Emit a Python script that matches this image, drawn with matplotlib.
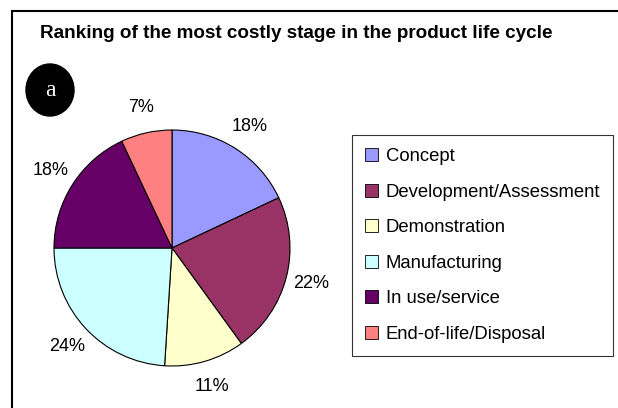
"""
Pie chart: ranking of the most costly stage in the product life cycle.
"""

import matplotlib
matplotlib.use("Agg")
import matplotlib.pyplot as plt
from matplotlib.patches import Rectangle, Ellipse

plt.rcParams["font.family"] = ["Liberation Sans", "DejaVu Sans"]

# data
STAGES = [
    "Concept",
    "Development/Assessment",
    "Demonstration",
    "Manufacturing",
    "In use/service",
    "End-of-life/Disposal",
]
SHARES = [18, 22, 11, 24, 18, 7]

# old-school spreadsheet palette
COLORS = ["#9999FF", "#993366", "#FFFFCC", "#CCFFFF", "#660066", "#FF8080"]

W, H = 618, 408
fig = plt.figure(figsize=(W / 100, H / 100), dpi=100)
fig.patch.set_facecolor("white")

# pie axes: centre (172, 248) px, radius ~118 px
r_px = 118
lim = 1.3
cx, cy = 172, 248
half = lim * r_px
ax = fig.add_axes([(cx - half) / W, (H - cy - half) / H, 2 * half / W, 2 * half / H])

wedges, texts, autotexts = ax.pie(
    SHARES,
    colors=COLORS,
    startangle=90,
    counterclock=False,
    autopct="%.0f%%",
    pctdistance=1.22,
    wedgeprops={"edgecolor": "black", "linewidth": 0.8},
    textprops={"fontsize": 13, "color": "black"},
)
ax.set_xlim(-lim, lim)
ax.set_ylim(-lim, lim)
ax.set_aspect("equal")
ax.axis("off")

# legend box
leg = fig.legend(
    wedges, STAGES,
    loc="upper left",
    bbox_to_anchor=(352 / W, 1 - 135 / H),
    bbox_transform=fig.transFigure,
    fontsize=13.3,
    frameon=True,
    fancybox=False,
    edgecolor="black",
    handlelength=0.7,
    handleheight=0.7,
    handletextpad=0.4,
    labelspacing=1.0,
    borderpad=0.72,
    borderaxespad=0,
)
leg.get_frame().set_linewidth(0.8)
for h in leg.legend_handles:
    h.set_edgecolor("black")
    h.set_linewidth(0.6)

# title
fig.text(296 / W, 1 - 33 / H, "Ranking of the most costly stage in the product life cycle",
         ha="center", va="center", fontsize=13.6, fontweight="bold")

# black badge with "a"
fig.patches.append(Ellipse((50 / W, 1 - 90 / H), 48 / W, 52 / H, color="black",
                           transform=fig.transFigure, figure=fig))
fig.text(50 / W, 1 - 90 / H, "a", ha="center", va="center", color="white",
         fontsize=17, family="Liberation Serif")

# outer chart frame (runs off the right and bottom edges)
fig.patches.append(Rectangle((12 / W, -0.1), 1.0, (H - 11) / H + 0.1, fill=False,
                             edgecolor="black", linewidth=1.5,
                             transform=fig.transFigure, figure=fig))

fig.savefig("out.png", dpi=100, facecolor="white")
